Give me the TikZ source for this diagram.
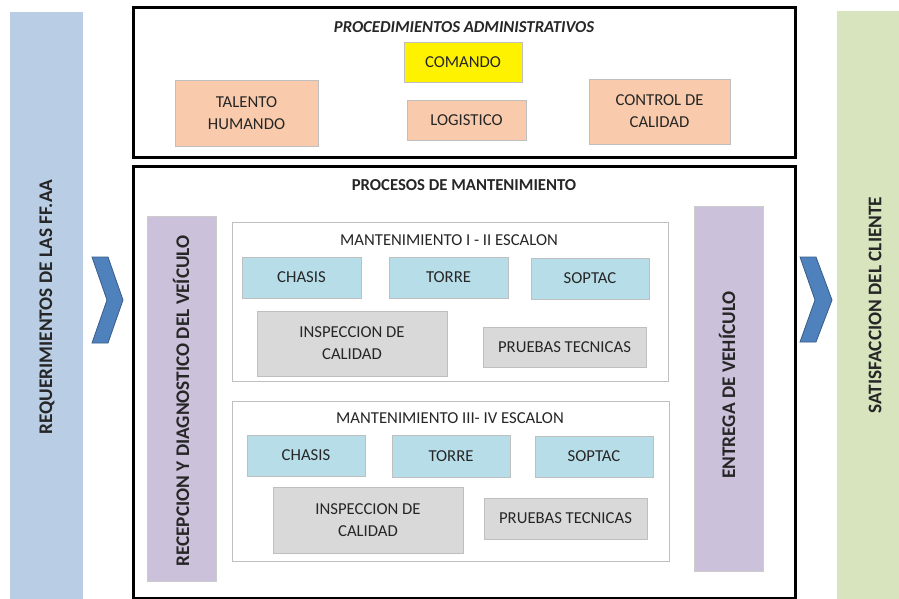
\documentclass[tikz,border=0pt]{standalone}
\usepackage{fontspec}
\setmainfont{Carlito}
\begin{document}
\begin{tikzpicture}[x=1pt,y=-1pt,
  every node/.style={font=\fontsize{16.7}{22}\selectfont, align=center, inner sep=0pt, text=black!85},
  frame/.style={draw=black, line width=3pt, fill=white},
  panel/.style={draw=black!25, line width=0.8pt, fill=white},
  card/.style={draw=black!25, line width=0.6pt},
  peach/.style={card, fill=peachc},
  lblue/.style={card, fill=aquac},
  lgray/.style={card, fill=grayc},
  vbar/.style={draw=black!20, line width=0.5pt, fill=lavc},
  vtext/.style={rotate=90, font=\fontsize{19.3}{22}\selectfont\bfseries},
  heading/.style={font=\fontsize{16.7}{20}\selectfont\bfseries},
  chev/.style={fill=chevfill, draw=chevdraw, line width=0.8pt, line join=miter}
]
\definecolor{sidebl}{HTML}{B9CDE5}
\definecolor{sidegr}{HTML}{D7E4BD}
\definecolor{peachc}{HTML}{F9CBAC}
\definecolor{aquac}{HTML}{B7DEE8}
\definecolor{grayc}{HTML}{D9D9D9}
\definecolor{lavc}{HTML}{CCC1DA}
\definecolor{chevfill}{HTML}{4F81BD}
\definecolor{chevdraw}{HTML}{385D8A}

\useasboundingbox (0,0) rectangle (899,599);
\fill[white] (0,0) rectangle (899,599);

% side columns
\node[fill=sidebl, minimum width=73pt, minimum height=588pt] (inbar) at (46.5,306) {};
\node[vtext] (intext) at (47,307) {REQUERIMIENTOS DE LAS FF.AA};
\node[fill=sidegr, minimum width=62pt, minimum height=588pt] (outbar) at (868,305) {};
\node[vtext] (outtext) at (875,305) {SATISFACCION DEL CLIENTE};

% chevrons
\draw[chev] (92,257) -- (108,257) -- (123,300) -- (108,343) -- (92,343) -- (107,300) -- cycle;
\draw[chev] (800,257) -- (816,257) -- (832,300) -- (816,342) -- (800,342) -- (815,300) -- cycle;

% administrative procedures
\node[frame, minimum width=662pt, minimum height=149pt] (admin) at (464,82.5) {};
\node[font=\fontsize{16.7}{20}\selectfont\bfseries\itshape] (admintitle) at (464,27) {PROCEDIMIENTOS ADMINISTRATIVOS};
\node[card, fill=yellow, minimum width=118pt, minimum height=40pt] (comando) at (463,62) {COMANDO};
\node[peach, minimum width=143pt, minimum height=66pt] (talento) at (246.5,113) {TALENTO\\HUMANDO};
\node[peach, minimum width=119pt, minimum height=40pt] (logistico) at (466.5,120) {LOGISTICO};
\node[peach, minimum width=141pt, minimum height=65pt] (control) at (659.5,111.5) {CONTROL DE\\CALIDAD};

% maintenance processes
\node[frame, minimum width=662pt, minimum height=432pt] (procesos) at (464,382) {};
\node[heading] (procesostitle) at (464,185) {PROCESOS DE MANTENIMIENTO};

\node[vbar, minimum width=69pt, minimum height=365pt] (recepcion) at (181.5,398.5) {};
\node[vtext] (recepciontext) at (181,401) {RECEPCION Y DIAGNOSTICO DEL VEÍCULO};
\node[vbar, minimum width=69pt, minimum height=365pt] (entrega) at (728.5,388.5) {};
\node[vtext] (entregatext) at (727,385) {ENTREGA DE VEHÍCULO};

% level I - II
\node[panel, minimum width=436pt, minimum height=159pt] (mantA) at (450,301.5) {};
\node (mantAtitle) at (449,240) {MANTENIMIENTO I - II ESCALON};
\node[lblue, minimum width=119pt, minimum height=41pt] (chasisA) at (301.5,277.5) {CHASIS};
\node[lblue, minimum width=119pt, minimum height=41pt] (torreA) at (448.5,277.5) {TORRE};
\node[lblue, minimum width=118pt, minimum height=41pt] (soptacA) at (590,278.5) {SOPTAC};
\node[lgray, minimum width=190pt, minimum height=65pt] (inspA) at (352,343.5) {INSPECCION DE\\CALIDAD};
\node[lgray, minimum width=163pt, minimum height=40pt] (pruebasA) at (564.5,347) {PRUEBAS TECNICAS};

% level III - IV
\node[panel, minimum width=437pt, minimum height=160pt] (mantB) at (450.5,481) {};
\node (mantBtitle) at (450,418) {MANTENIMIENTO III- IV ESCALON};
\node[lblue, minimum width=118pt, minimum height=41pt] (chasisB) at (306,455.5) {CHASIS};
\node[lblue, minimum width=118pt, minimum height=42pt] (torreB) at (451,456) {TORRE};
\node[lblue, minimum width=118pt, minimum height=41pt] (soptacB) at (594,456.5) {SOPTAC};
\node[lgray, minimum width=190pt, minimum height=66pt] (inspB) at (368,520) {INSPECCION DE\\CALIDAD};
\node[lgray, minimum width=163pt, minimum height=41pt] (pruebasB) at (565.5,518.5) {PRUEBAS TECNICAS};
\end{tikzpicture}
\end{document}
